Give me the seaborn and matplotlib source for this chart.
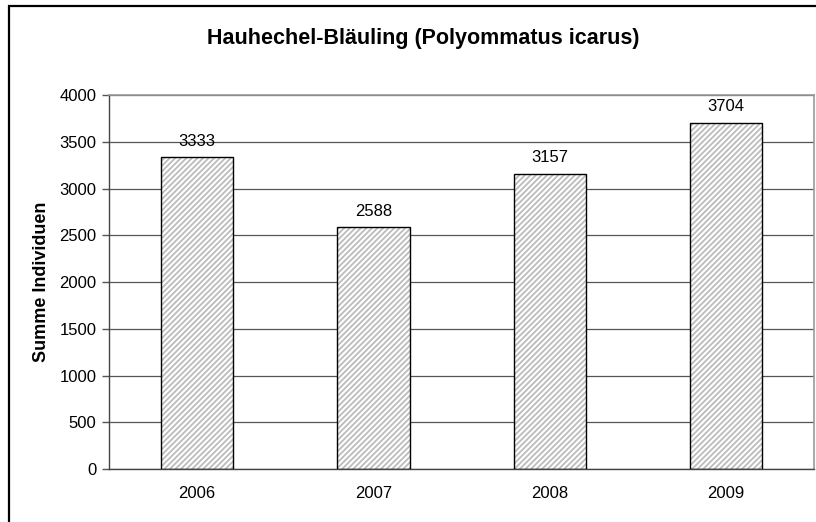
import matplotlib as mpl
mpl.use('Agg')
import matplotlib.pyplot as plt
from matplotlib.patches import Rectangle
import seaborn as sns

years = ['2006', '2007', '2008', '2009']
counts = [3333, 2588, 3157, 3704]
title = 'Hauhechel-Bläuling (Polyommatus icarus)'
ylabel = 'Summe Individuen'

sns.set_style('white')
plt.rcParams['font.family'] = ['Liberation Sans', 'DejaVu Sans']
plt.rcParams['text.color'] = 'black'
plt.rcParams['axes.labelcolor'] = 'black'
plt.rcParams['xtick.color'] = 'black'
plt.rcParams['ytick.color'] = 'black'
plt.rcParams['hatch.linewidth'] = 1.3

fig = plt.figure(figsize=(8.16, 5.22), dpi=100)
ax = fig.add_axes([0.1336, 0.1015, 0.864, 0.7165])

sns.barplot(x=years, y=counts, color='white', width=0.41, ax=ax,
            edgecolor='#bcbcbc', linewidth=0, hatch='//////', zorder=2)
# black outline on top (hatch colour follows edgecolor)
for p in list(ax.patches):
    ax.add_patch(Rectangle(p.get_xy(), p.get_width(), p.get_height(),
                           fill=False, ec='black', lw=1.0, zorder=3))

for i, v in enumerate(counts):
    ax.text(i, v + 90, str(v), ha='center', va='bottom', fontsize=12, zorder=4)

ax.set_ylim(0, 4000)
ax.set_yticks(range(0, 4001, 500))
ax.set_xlim(-0.5, 3.5)
ax.yaxis.grid(True, color='#555555', lw=0.9, zorder=0)
ax.set_axisbelow(True)
ax.tick_params(axis='y', left=True, length=5, width=1, color='#555555', labelsize=12, pad=4)
ax.tick_params(axis='x', bottom=False, labelsize=12, pad=9)
for s in ['top', 'right']:
    ax.spines[s].set_color('#999999')
    ax.spines[s].set_linewidth(1.2)
ax.spines['left'].set_color('#444444')
ax.spines['bottom'].set_color('#444444')
ax.spines['left'].set_linewidth(1.0)
ax.spines['bottom'].set_linewidth(1.0)

ax.set_ylabel(ylabel, fontsize=13, fontweight='bold', labelpad=7)
fig.text(0.519, 0.927, title, ha='center', va='center', fontsize=15.5, fontweight='bold')

# outer chart border
fig.patches.append(Rectangle((0.0115, -0.1), 1.2, 1.0885, transform=fig.transFigure,
                             fill=False, ec='black', lw=1.6))

fig.savefig('out.png', dpi=100)
